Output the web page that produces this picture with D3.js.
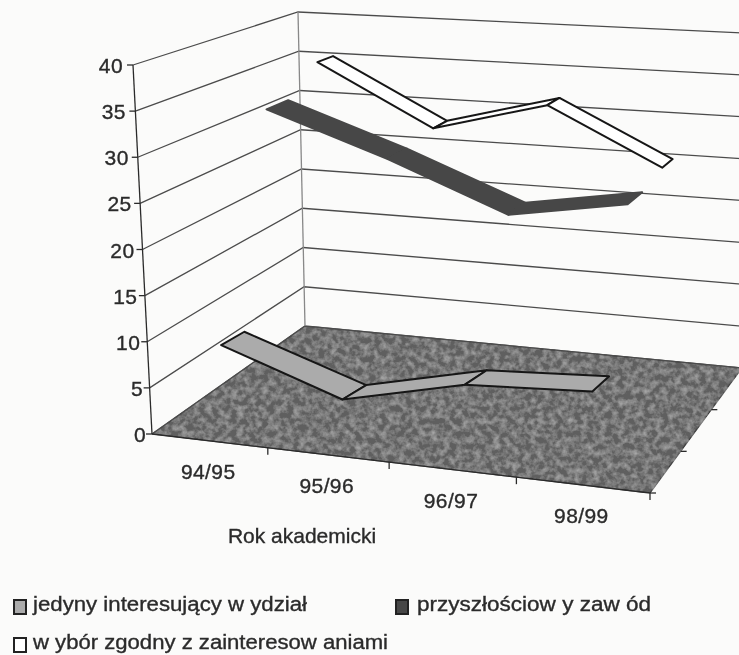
<!DOCTYPE html>
<html lang="pl">
  <head>
    <meta charset="UTF-8" />
    <title>Rok akademicki</title>
    <script src="https://cdn.jsdelivr.net/npm/d3@7"></script>
    <style>
      html, body { margin: 0; padding: 0; background: #fbfbfa; }
      text { font-family: "Liberation Sans", Arial, sans-serif; fill: #2b2b2b; stroke: #2b2b2b; stroke-width: 0.35; }
    </style>
  </head>
  <body>
    <div id="wrapper"></div>
    <script>
      const categories = ['94/95', '95/96', '96/97', '98/99']
      const seriesNames = [
        'jedyny interesujący w ydział',
        'przyszłościow y zaw ód',
        'w ybór zgodny z zainteresow aniami'
      ]
      const jedyny = [9.3, 4.8, 7.8, 8.5]
      const przyszlosciowy = [32.7, 28, 22.8, 25]
      const wybor = [35.8, 28.7, 32.3, 25.9]
      const seriesValues = [jedyny, przyszlosciowy, wybor]
      const valueTicks = [0, 5, 10, 15, 20, 25, 30, 35, 40]

      const width = 739
      const height = 655

      // corners of the 3D box, as seen on the page
      const floor = { fl: [152, 434], fr: [650, 493], bl: [305, 326], br: [742, 368] }
      const lift = { fl: [-19, -369], fr: [-6, -394], bl: [-7, -314], br: [0, -335] }
      // the rear ribbon looks narrower than the other two
      const ribbonDepth = [1, 1, 0.72]

      const catScale = d3.scalePoint().domain(categories).range([0, 1]).padding(0.5)
      const catEdge = d3.scaleLinear().domain([0, categories.length]).range([0, 1])
      const depthScale = d3.scaleBand().domain(seriesNames).range([0, 1])
        .paddingInner(0.58).paddingOuter(0.29)
      const valueScale = d3.scaleLinear().domain([0, 40]).range([0, 1])

      function bilinear(c, u, d) {
        const front = d3.interpolate(c.fl, c.fr)(u)
        const back = d3.interpolate(c.bl, c.br)(u)
        return d3.interpolate(front, back)(d)
      }
      function project(u, d, v) {
        // spacing along the categories widens towards the viewer, mostly near the front
        const r = Math.max(1, 1.1 - d * 0.35)
        const w = u / (u + r * (1 - u))
        const base = bilinear(floor, w, d)
        const up = bilinear(lift, w, d)
        const t = valueScale(v)
        return [base[0] + up[0] * t, base[1] + up[1] * t]
      }

      const svg = d3.select('#wrapper').append('svg')
        .attr('width', width)
        .attr('height', height)
        .style('display', 'block')

      const defs = svg.append('defs')
      const soft = defs.append('filter').attr('id', 'soft')
      soft.append('feGaussianBlur').attr('stdDeviation', 0.55)

      const grain = defs.append('filter').attr('id', 'grain')
        .attr('x', 0).attr('y', 0).attr('width', 1).attr('height', 1)
      grain.append('feTurbulence').attr('type', 'fractalNoise')
        .attr('baseFrequency', 0.16).attr('numOctaves', 3).attr('seed', 7).attr('result', 'n')
      grain.append('feColorMatrix').attr('in', 'n').attr('type', 'matrix')
        .attr('values', '0 0 0 0 1  0 0 0 0 1  0 0 0 0 1  0.55 0 0 0 -0.2').attr('result', 'dots')
      grain.append('feComposite').attr('in', 'dots').attr('in2', 'SourceAlpha').attr('operator', 'in').attr('result', 'clip')
      grain.append('feMerge').call(m => {
        m.append('feMergeNode').attr('in', 'SourceGraphic')
        m.append('feMergeNode').attr('in', 'clip')
      })

      const g = svg.append('g').attr('filter', 'url(#soft)')
      const line = d3.line()
      const closed = pts => line(pts) + 'Z'

      // floor
      g.append('path')
        .attr('d', closed([project(0, 0, 0), project(1, 0, 0), project(1, 1, 0), project(0, 1, 0)]))
        .attr('fill', '#5e5e5e')
        .attr('stroke', '#3c3c3c')
        .attr('stroke-width', 1.2)
        .attr('filter', 'url(#grain)')

      // walls
      const grid = g.append('g').attr('fill', 'none').attr('stroke', '#4c4c4c').attr('stroke-width', 1.3)
      valueTicks.forEach(v => {
        grid.append('path').attr('d', line([project(0, 0, v), project(0, 1, v), project(1, 1, v)]))
      })
      grid.append('path').attr('d', line([project(0, 1, 0), project(0, 1, 40)])).attr('stroke', '#888')
      grid.append('path').attr('d', line([project(1, 1, 0), project(1, 1, 40)])).attr('stroke', '#888')

      // value axis
      const axis = g.append('g').attr('fill', 'none').attr('stroke', '#2b2b2b').attr('stroke-width', 1.3)
      axis.append('path').attr('d', line([project(0, 0, 0), project(0, 0, 40)]))
      valueTicks.forEach(v => {
        const p = project(0, 0, v)
        axis.append('path').attr('d', line([p, [p[0] - 6, p[1]]]))
        g.append('text')
          .attr('x', p[0] - 6 - v / 10)
          .attr('y', p[1] + 8)
          .attr('text-anchor', 'end')
          .attr('font-size', 21)
          .attr('letter-spacing', 0.4)
          .text(v)
      })

      // category axis
      axis.append('path').attr('d', line([project(0, 0, 0), project(1, 0, 0)]))
      d3.range(1, categories.length + 1).forEach(i => {
        const p = project(catEdge(i), 0, 0)
        axis.append('path').attr('d', line([p, [p[0], p[1] + 7]]))
      })
      categories.forEach(c => {
        const p = project(catScale(c), 0, 0)
        g.append('text')
          .attr('x', p[0] - 1)
          .attr('y', p[1] + 38)
          .attr('text-anchor', 'middle')
          .attr('font-size', 21)
          .attr('letter-spacing', 0.4)
          .text(c)
      })

      // unlabelled depth ticks on the floor's right edge
      d3.range(1, seriesNames.length).forEach(i => {
        const p = project(1, i / seriesNames.length, 0)
        axis.append('path').attr('d', line([p, [p[0] + 6, p[1]]]))
      })
      const corner = project(1, 0, 0)
      axis.append('path').attr('d', line([corner, [corner[0] + 6, corner[1]]]))

      g.append('text')
        .attr('x', 302)
        .attr('y', 543)
        .attr('text-anchor', 'middle')
        .attr('font-size', 21)
        .text('Rok akademicki')

      // ribbons, back to front
      const ribbonFill = ['#ababab', '#474747', '#fff']
      const ribbonStroke = ['#161616', '#474747', '#161616']
      d3.range(seriesNames.length).reverse().forEach(s => {
        const d0 = depthScale(seriesNames[s])
        const d1 = d0 + depthScale.bandwidth() * ribbonDepth[s]
        const vals = seriesValues[s]
        const group = g.append('g')
          .attr('fill', ribbonFill[s])
          .attr('stroke', ribbonStroke[s])
          .attr('stroke-width', 2)
          .attr('stroke-linejoin', 'round')
        d3.pairs(categories.map((c, i) => [catScale(c), vals[i]])).forEach(([a, b]) => {
          group.append('path').attr('d', closed([
            project(a[0], d0, a[1]),
            project(b[0], d0, b[1]),
            project(b[0], d1, b[1]),
            project(a[0], d1, a[1])
          ]))
        })
      })

      // legend
      const legendPos = [[14, 611, 33, 274], [396, 611, 417, 234], [14, 649, 33, 355]]
      seriesNames.forEach((name, s) => {
        const [sx, ty, tx, tw] = legendPos[s]
        g.append('rect')
          .attr('x', sx)
          .attr('y', ty - 11)
          .attr('width', 12)
          .attr('height', 14)
          .attr('fill', ribbonFill[s])
          .attr('stroke', '#222')
          .attr('stroke-width', 2)
        g.append('text')
          .attr('x', tx)
          .attr('y', ty)
          .attr('font-size', 20)
          .attr('textLength', tw)
          .attr('lengthAdjust', 'spacingAndGlyphs')
          .text(name)
      })
    </script>
  </body>
</html>
